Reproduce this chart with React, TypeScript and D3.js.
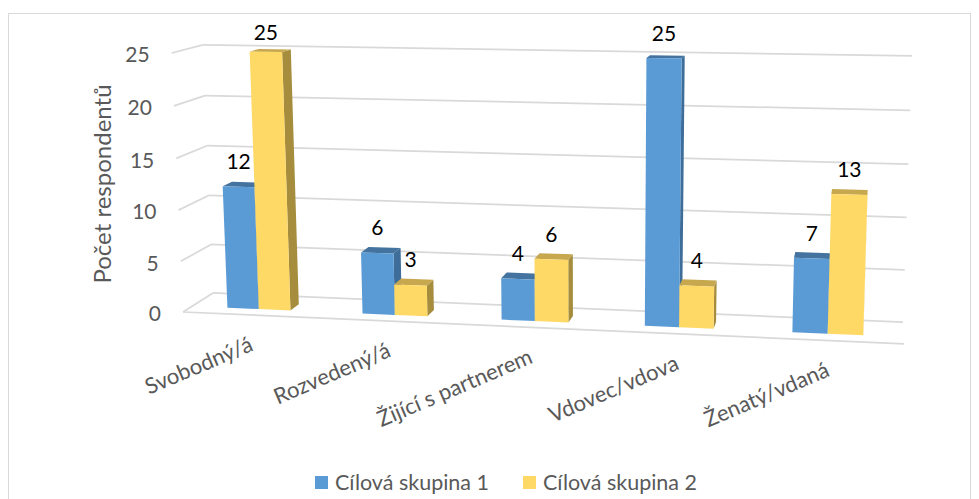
import React from 'react';
import * as d3 from 'd3';

const categories = ['Svobodný/á', 'Rozvedený/á', 'Žijící s partnerem', 'Vdovec/vdova', 'Ženatý/vdaná'];
const seriesNames = ['Cílová skupina 1', 'Cílová skupina 2'];
const group1 = [12, 6, 4, 25, 7];
const group2 = [25, 3, 6, 4, 13];
const yTicks = [0, 5, 10, 15, 20, 25];

const W = 979;
const H = 499;
const FONT = 'Lato, "Open Sans", sans-serif';
const TEXT = '#595959';
const GRID = '#d9d9d9';

const colors = [
  { front: '#5b9bd5', top: '#44739f', side: '#3d6d98' },
  { front: '#ffd966', top: '#c7a84f', side: '#a68d3e' },
];

// Perspective box: image of the front-bottom-left corner, the vanishing points
// of the category, value and depth axes, and where each unit axis ends on screen.
type P = [number, number];
const ORIGIN: P = [183, 312];
const VANISH_X: P = [-9100, -99];
const VANISH_Y: P = [589, 9568];
const VANISH_Z: P = [882, -131];
const END_X: P = [904, 344];
const END_Y: P = [174, 53];
const END_Z: P = [213, 293];

function axisWeight(v: P, t: P) {
  const dx = v[0] - t[0];
  const dy = v[1] - t[1];
  return Math.abs(dx) > Math.abs(dy) ? (t[0] - ORIGIN[0]) / dx : (t[1] - ORIGIN[1]) / dy;
}
const LX = axisWeight(VANISH_X, END_X);
const LY = axisWeight(VANISH_Y, END_Y);
const LZ = axisWeight(VANISH_Z, END_Z);

// u: along categories (0..1), v: value fraction (0..1), d: depth (0 front .. 1 back)
function project(u: number, v: number, d: number): P {
  const X = ORIGIN[0] + u * LX * VANISH_X[0] + v * LY * VANISH_Y[0] + d * LZ * VANISH_Z[0];
  const Y = ORIGIN[1] + u * LX * VANISH_X[1] + v * LY * VANISH_Y[1] + d * LZ * VANISH_Z[1];
  const w = 1 + u * LX + v * LY + d * LZ;
  return [X / w, Y / w];
}

const poly = (pts: P[]) => pts.map((p) => `${p[0].toFixed(2)},${p[1].toFixed(2)}`).join(' ');

const DEPTH_FRONT = 0.3;
const DEPTH_BACK = 0.62;

export default function App() {
  const xBand = d3.scaleBand<string>().domain(categories).range([0, 1]).paddingInner(0.53).paddingOuter(0.265);
  const xSub = d3.scaleBand<string>().domain(seriesNames).range([0, xBand.bandwidth()]);
  const vScale = d3.scaleLinear().domain([0, 25]).range([0, 1]);
  const values = [group1, group2];

  const gridLines: P[][] = [];
  yTicks.forEach((t) => {
    const v = vScale(t);
    gridLines.push([project(0, v, 0), project(0, v, 1)]);
    gridLines.push([project(0, v, 1), project(1, v, 1)]);
  });
  gridLines.push([project(0, 0, 0), project(1, 0, 0)]);

  const bars: { key: string; pts: P[]; fill: string }[] = [];
  const labels: { key: string; x: number; y: number; text: string }[] = [];
  categories.forEach((c, i) => {
    seriesNames.forEach((s, si) => {
      const val = values[si][i];
      const u0 = (xBand(c) as number) + (xSub(s) as number);
      const u1 = u0 + xSub.bandwidth();
      const v = vScale(val);
      const f = DEPTH_FRONT;
      const b = DEPTH_BACK;
      const col = colors[si];
      bars.push({
        key: `${i}-${si}-side`,
        fill: col.side,
        pts: [project(u1, 0, f), project(u1, 0, b), project(u1, v, b), project(u1, v, f)],
      });
      bars.push({
        key: `${i}-${si}-top`,
        fill: col.top,
        pts: [project(u0, v, f), project(u1, v, f), project(u1, v, b), project(u0, v, b)],
      });
      bars.push({
        key: `${i}-${si}-front`,
        fill: col.front,
        pts: [project(u0, 0, f), project(u1, 0, f), project(u1, v, f), project(u0, v, f)],
      });
      const top = project((u0 + u1) / 2, v, f);
      labels.push({ key: `${i}-${si}`, x: top[0], y: Math.max(top[1] - 25, 33), text: String(val) });
    });
  });

  return (
    <svg width={W} height={H} style={{ position: 'absolute', left: 0, top: 0, background: '#fff' }}>
      <rect x={8.5} y={13.5} width={962} height={500} fill="#fff" stroke={GRID} strokeWidth={1} />
      {gridLines.map((l, i) => (
        <line key={i} x1={l[0][0]} y1={l[0][1]} x2={l[1][0]} y2={l[1][1]} stroke={GRID} strokeWidth={1.75} />
      ))}
      {yTicks.map((t) => {
        const p = project(0, vScale(t), 0);
        return (
          <text key={t} x={p[0] - 22} y={p[1] + 2} dy="0.35em" textAnchor="end" fontFamily={FONT} fontSize={21} fill={TEXT}>
            {t}
          </text>
        );
      })}
      <text
        transform="translate(103,184) rotate(-90)"
        textAnchor="middle"
        dy="0.35em"
        fontFamily={FONT}
        fontSize={24}
        fill={TEXT}
      >
        Počet respondentů
      </text>
      {bars.map((b) => (
        <polygon key={b.key} points={poly(b.pts)} fill={b.fill} />
      ))}
      {labels.map((l) => (
        <text key={l.key} x={l.x} y={l.y} dy="0.35em" textAnchor="middle" fontFamily={FONT} fontSize={21} fill="#000">
          {l.text}
        </text>
      ))}
      {categories.map((c) => {
        const p = project((xBand(c) as number) + xBand.bandwidth() / 2, 0, 0);
        return (
          <text
            key={c}
            transform={`translate(${p[0] + 4},${p[1] + 35}) rotate(-23)`}
            textAnchor="end"
            fontFamily={FONT}
            fontSize={22}
            fill={TEXT}
          >
            {c}
          </text>
        );
      })}
      {seriesNames.map((s, i) => {
        const x0 = 315 + i * 208;
        return (
          <g key={s}>
            <rect x={x0} y={476} width={13} height={13} fill={colors[i].front} />
            <text x={x0 + 20} y={490} fontFamily={FONT} fontSize={21.5} fill={TEXT}>
              {s}
            </text>
          </g>
        );
      })}
    </svg>
  );
}
